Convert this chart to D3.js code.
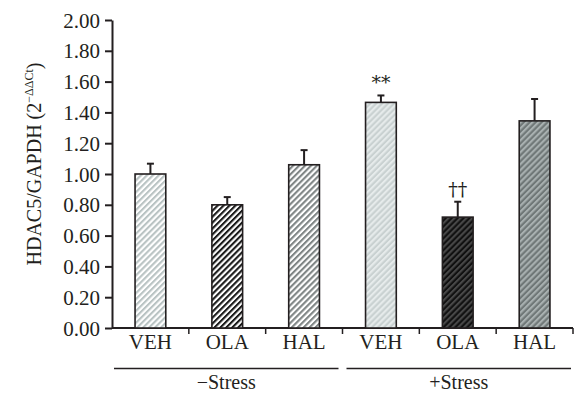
<!DOCTYPE html>
<html><head><meta charset="utf-8">
<script src="https://cdn.jsdelivr.net/npm/d3@7"></script>
<style>body{margin:0;background:#fff}text{font-family:"Liberation Serif","Times New Roman",serif;fill:#231f20}</style>
</head><body>
<svg id="c" width="587" height="403"></svg>
<script>
const categories = ["VEH","OLA","HAL","VEH","OLA","HAL"];
const values = [1.00, 0.80, 1.06, 1.465, 0.72, 1.345];
const errors = [0.067, 0.05, 0.095, 0.045, 0.10, 0.142];
const marks = ["", "", "", "**", "††", ""];
const groups = ["−Stress", "+Stress"];
const yTicks = [0,0.2,0.4,0.6,0.8,1.0,1.2,1.4,1.6,1.8,2.0];
const fills = [
  {bg:"#ffffff", fg:"#b9c3c3"},
  {bg:"#ffffff", fg:"#1a1a1a"},
  {bg:"#ffffff", fg:"#7f8585"},
  {bg:"#c9d1d1", fg:"#e6ebeb"},
  {bg:"#101010", fg:"#484848"},
  {bg:"#6f7777", fg:"#a8b0b0"}
];

const svg = d3.select("#c");
const mL = 112, mR = 573, mT = 20, mB = 328;
const x = d3.scaleBand().domain(d3.range(categories.length)).range([mL, mR]).paddingInner(0.6).paddingOuter(0.3);
const xb = d3.scaleBand().domain(d3.range(categories.length)).range([mL, mR]);
const y = d3.scaleLinear().domain([0, 2]).range([mB, mT]);

const defs = svg.append("defs");
fills.forEach((f, i) => {
  const p = defs.append("pattern").attr("id", "p" + i).attr("patternUnits", "userSpaceOnUse")
    .attr("width", 4.2).attr("height", 4.2).attr("patternTransform", "rotate(45)");
  p.append("rect").attr("width", 4.2).attr("height", 4.2).attr("fill", f.bg);
  p.append("rect").attr("width", 2.1).attr("height", 4.2).attr("fill", f.fg);
});

// y axis
const ya = svg.append("g").attr("transform", `translate(${mL},0)`)
  .call(d3.axisLeft(y).tickValues(yTicks).tickFormat(d3.format(".2f")).tickSize(7).tickSizeOuter(0));
ya.attr("font-family", null).attr("font-size", null);
ya.select(".domain").attr("stroke", "#231f20").attr("stroke-width", 2);
ya.selectAll(".tick line").attr("stroke", "#231f20").attr("stroke-width", 2);
ya.selectAll(".tick text").attr("font-size", 21).attr("x", -12).attr("dy", "0.34em").attr("fill", "#231f20");

// x axis line & ticks
svg.append("line").attr("x1", mL).attr("x2", mR).attr("y1", mB).attr("y2", mB).attr("stroke", "#231f20").attr("stroke-width", 2);
svg.selectAll(".xt").data(d3.range(1, categories.length + 1)).enter().append("line")
  .attr("x1", d => xb(d - 1) + xb.bandwidth()).attr("x2", d => xb(d - 1) + xb.bandwidth())
  .attr("y1", mB).attr("y2", mB + 6).attr("stroke", "#231f20").attr("stroke-width", 1.5);

// bars
const g = svg.append("g");
categories.forEach((c, i) => {
  const bx = x(i), bw = x.bandwidth(), cx = bx + bw / 2;
  g.append("line").attr("x1", cx).attr("x2", cx).attr("y1", y(values[i])).attr("y2", y(values[i] + errors[i])).attr("stroke", "#231f20").attr("stroke-width", 2);
  g.append("line").attr("x1", cx - 3.5).attr("x2", cx + 3.5).attr("y1", y(values[i] + errors[i])).attr("y2", y(values[i] + errors[i])).attr("stroke", "#231f20").attr("stroke-width", 2);
  g.append("rect").attr("x", bx).attr("y", y(values[i])).attr("width", bw).attr("height", y(0) - y(values[i]))
    .attr("fill", `url(#p${i})`).attr("stroke", "#231f20").attr("stroke-width", 1.6);
  if (marks[i]) g.append("text").attr("x", cx).attr("y", y(values[i] + errors[i]) - 6).attr("text-anchor", "middle")
    .attr("font-size", 19).style("font-family", "'DejaVu Serif', serif").style("fill", "#231f20").text(marks[i]);
  svg.append("text").attr("x", xb(i) + xb.bandwidth() / 2).attr("y", 349).attr("text-anchor", "middle").attr("font-size", 21).text(c);
});

// groups
groups.forEach((gname, k) => {
  const x1 = k === 0 ? 114 : 346.5, x2 = k === 0 ? 338.5 : 571;
  svg.append("line").attr("x1", x1).attr("x2", x2).attr("y1", 368.5).attr("y2", 368.5).attr("stroke", "#231f20").attr("stroke-width", 1.6);
  svg.append("text").attr("x", (x1 + x2) / 2).attr("y", 389).attr("text-anchor", "middle").attr("font-size", 20).text(gname);
});

// y label
const yl = svg.append("text").attr("transform", "translate(41,164) rotate(-90)").attr("text-anchor", "middle").attr("font-size", 20);
yl.append("tspan").text("HDAC5/GAPDH (2");
yl.append("tspan").attr("font-size", 12).attr("dy", -8).text("−ΔΔCt");
yl.append("tspan").attr("dy", 8).text(")");
</script>
</body></html>
